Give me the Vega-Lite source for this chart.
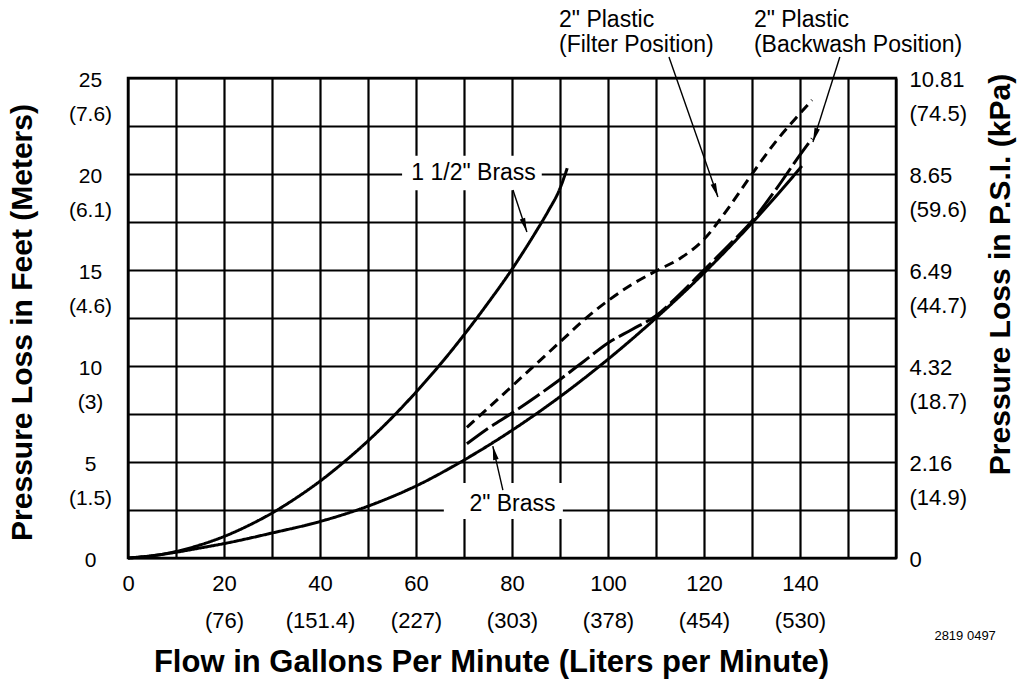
{
  "$schema": "https://vega.github.io/schema/vega-lite/v6.json",
  "width": 768,
  "height": 480,
  "autosize": {"type": "none"},
  "padding": {"left": 128, "top": 78, "right": 129, "bottom": 121},
  "background": "white",
  "config": {
    "view": {"stroke": "black", "strokeWidth": 2.5},
    "font": "Liberation Sans",
    "axis": {
      "domain": false, "ticks": false, "tickSize": 0, "grid": true,
      "gridColor": "black", "gridWidth": 2.2, "gridOpacity": 1,
      "labelColor": "black", "labelFont": "Liberation Sans", "titleColor": "black",
      "titleFont": "Liberation Sans", "labelFlush": false, "labelOverlap": false, "labelBound": false
    }
  },
  "datasets": {
    "boxes": [
      {"x": 57.1, "x2": 86.2, "y": 19.15, "y2": 20.95},
      {"x": 65.8, "x2": 90.6, "y": 2.03, "y2": 3.9}
    ],
    "curves": [
      {"s": "1 1/2in Brass", "x": 0, "y": 0},
      {"s": "1 1/2in Brass", "x": 5, "y": 0.11},
      {"s": "1 1/2in Brass", "x": 10, "y": 0.34},
      {"s": "1 1/2in Brass", "x": 15, "y": 0.68},
      {"s": "1 1/2in Brass", "x": 20, "y": 1.12},
      {"s": "1 1/2in Brass", "x": 25, "y": 1.68},
      {"s": "1 1/2in Brass", "x": 30, "y": 2.34},
      {"s": "1 1/2in Brass", "x": 35, "y": 3.12},
      {"s": "1 1/2in Brass", "x": 40, "y": 4.0},
      {"s": "1 1/2in Brass", "x": 45, "y": 5.0},
      {"s": "1 1/2in Brass", "x": 50, "y": 6.1},
      {"s": "1 1/2in Brass", "x": 55, "y": 7.31},
      {"s": "1 1/2in Brass", "x": 60, "y": 8.64},
      {"s": "1 1/2in Brass", "x": 65, "y": 10.07},
      {"s": "1 1/2in Brass", "x": 70, "y": 11.62},
      {"s": "1 1/2in Brass", "x": 75, "y": 13.28},
      {"s": "1 1/2in Brass", "x": 80, "y": 15.04},
      {"s": "1 1/2in Brass", "x": 82.5, "y": 16.0},
      {"s": "1 1/2in Brass", "x": 85, "y": 17.0},
      {"s": "1 1/2in Brass", "x": 87.5, "y": 18.05},
      {"s": "1 1/2in Brass", "x": 90, "y": 19.25},
      {"s": "1 1/2in Brass", "x": 91.5, "y": 20.3},
      {"s": "2in Brass", "x": 0, "y": 0},
      {"s": "2in Brass", "x": 5, "y": 0.12},
      {"s": "2in Brass", "x": 10, "y": 0.3},
      {"s": "2in Brass", "x": 15, "y": 0.52},
      {"s": "2in Brass", "x": 20, "y": 0.75},
      {"s": "2in Brass", "x": 30, "y": 1.3},
      {"s": "2in Brass", "x": 40, "y": 1.9},
      {"s": "2in Brass", "x": 50, "y": 2.7},
      {"s": "2in Brass", "x": 60, "y": 3.75},
      {"s": "2in Brass", "x": 70, "y": 5.1},
      {"s": "2in Brass", "x": 80, "y": 6.65},
      {"s": "2in Brass", "x": 90, "y": 8.4},
      {"s": "2in Brass", "x": 100, "y": 10.35},
      {"s": "2in Brass", "x": 110, "y": 12.5},
      {"s": "2in Brass", "x": 120, "y": 14.85},
      {"s": "2in Brass", "x": 130, "y": 17.45},
      {"s": "2in Brass", "x": 140, "y": 20.3},
      {"s": "2in Brass", "x": 140.4, "y": 20.42},
      {"s": "2in Plastic Backwash", "x": 70.6, "y": 5.95},
      {"s": "2in Plastic Backwash", "x": 75, "y": 6.75},
      {"s": "2in Plastic Backwash", "x": 80, "y": 7.55},
      {"s": "2in Plastic Backwash", "x": 85, "y": 8.4},
      {"s": "2in Plastic Backwash", "x": 90, "y": 9.3},
      {"s": "2in Plastic Backwash", "x": 95, "y": 10.25},
      {"s": "2in Plastic Backwash", "x": 100, "y": 11.2},
      {"s": "2in Plastic Backwash", "x": 105, "y": 11.9},
      {"s": "2in Plastic Backwash", "x": 110, "y": 12.62},
      {"s": "2in Plastic Backwash", "x": 115, "y": 13.75},
      {"s": "2in Plastic Backwash", "x": 120, "y": 15.0},
      {"s": "2in Plastic Backwash", "x": 125, "y": 16.25},
      {"s": "2in Plastic Backwash", "x": 130, "y": 17.55},
      {"s": "2in Plastic Backwash", "x": 135, "y": 19.2},
      {"s": "2in Plastic Backwash", "x": 140, "y": 21.0},
      {"s": "2in Plastic Backwash", "x": 142.5, "y": 21.85},
      {"s": "2in Plastic Filter", "x": 70.6, "y": 6.8},
      {"s": "2in Plastic Filter", "x": 75, "y": 7.8},
      {"s": "2in Plastic Filter", "x": 80, "y": 8.95},
      {"s": "2in Plastic Filter", "x": 85, "y": 10.1},
      {"s": "2in Plastic Filter", "x": 90, "y": 11.25},
      {"s": "2in Plastic Filter", "x": 95, "y": 12.4},
      {"s": "2in Plastic Filter", "x": 100, "y": 13.4},
      {"s": "2in Plastic Filter", "x": 105, "y": 14.25},
      {"s": "2in Plastic Filter", "x": 110, "y": 14.95},
      {"s": "2in Plastic Filter", "x": 115, "y": 15.6},
      {"s": "2in Plastic Filter", "x": 120, "y": 16.6},
      {"s": "2in Plastic Filter", "x": 125, "y": 18.2},
      {"s": "2in Plastic Filter", "x": 130, "y": 20.0},
      {"s": "2in Plastic Filter", "x": 135, "y": 21.7},
      {"s": "2in Plastic Filter", "x": 140, "y": 23.15},
      {"s": "2in Plastic Filter", "x": 142.5, "y": 23.85}
    ],
    "arrows": [
      {"x": 80.2, "y": 19.17, "x2": 83.1, "y2": 16.98, "a": 161.6},
      {"x": 78.1, "y": 3.54, "x2": 76.0, "y2": 5.83, "a": 347.2},
      {"x": 112.7, "y": 26.09, "x2": 122.9, "y2": 18.8, "a": 160.7},
      {"x": 148.3, "y": 26.09, "x2": 142.7, "y2": 21.67, "a": 197.6}
    ],
    "inlabels": [
      {"x": 72.0, "y": 20.05, "t": "1 1/2\" Brass"},
      {"x": 80.1, "y": 2.81, "t": "2\" Brass"}
    ],
    "toplabels": [
      {"x": 89.8, "y": 27.68, "t": "2\" Plastic|(Filter Position)"},
      {"x": 130.4, "y": 27.68, "t": "2\" Plastic|(Backwash Position)"}
    ],
    "figid": [
      {"x": 174.4, "y": -4.06, "t": "2819 0497"}
    ]
  },
  "layer": [
    {
      "data": {"name": "boxes"},
      "mark": {"type": "rect", "fill": "white", "strokeWidth": 0},
      "encoding": {
        "x": {
          "field": "x", "type": "quantitative",
          "scale": {"domain": [0, 160], "nice": false, "zero": false},
          "axis": {
            "orient": "bottom", "grid": true, "zindex": 0,
            "values": [0, 10, 20, 30, 40, 50, 60, 70, 80, 90, 100, 110, 120, 130, 140, 150, 160],
            "labelExpr": "datum.value == 0 ? '0' : datum.value == 20 ? ['20','(76)'] : datum.value == 40 ? ['40','(151.4)'] : datum.value == 60 ? ['60','(227)'] : datum.value == 80 ? ['80','(303)'] : datum.value == 100 ? ['100','(378)'] : datum.value == 120 ? ['120','(454)'] : datum.value == 140 ? ['140','(530)'] : ''",
            "labelFontSize": 22, "labelLineHeight": 37, "labelPadding": 15, "labelBaseline": "top", "labelAlign": "center",
            "title": "Flow in Gallons Per Minute (Liters per Minute)",
            "titleFontSize": 31, "titleFontWeight": "bold",
            "titleX": 363, "titleY": 104, "titleAlign": "center", "titleBaseline": "middle"
          }
        },
        "x2": {"field": "x2"},
        "y": {
          "field": "y", "type": "quantitative",
          "scale": {"domain": [0, 25], "nice": false, "zero": false},
          "axis": {
            "orient": "left", "grid": true, "zindex": 0,
            "values": [0, 2.5, 5, 7.5, 10, 12.5, 15, 17.5, 20, 22.5, 25],
            "labelExpr": "datum.value == 25 ? ['25','(7.6)'] : datum.value == 20 ? ['20','(6.1)'] : datum.value == 15 ? ['15','(4.6)'] : datum.value == 10 ? ['10','(3)'] : datum.value == 5 ? ['5','(1.5)'] : datum.value == 0 ? '0' : ''",
            "labelFontSize": 21, "labelLineHeight": 34, "labelPadding": 38, "labelAlign": "center", "labelBaseline": "top", "labelOffset": -9,
            "title": "Pressure Loss  in Feet (Meters)",
            "titleFontSize": 30, "titleFontWeight": "bold", "titleAngle": 270,
            "titleX": -106, "titleY": 244, "titleAlign": "center", "titleBaseline": "middle"
          }
        },
        "y2": {"field": "y2"}
      }
    },
    {
      "data": {"name": "curves"},
      "mark": {"type": "line", "interpolate": "monotone", "strokeWidth": 3, "color": "black", "strokeCap": "butt"},
      "encoding": {
        "x": {"field": "x", "type": "quantitative", "scale": {"domain": [0, 160], "nice": false, "zero": false}, "axis": null},
        "y": {
          "field": "y", "type": "quantitative",
          "scale": {"domain": [0, 25], "nice": false, "zero": false},
          "axis": {
            "orient": "right", "grid": false, "zindex": 0,
            "values": [0, 5, 10, 15, 20, 25],
            "labelExpr": "datum.value == 25 ? ['10.81','(74.5)'] : datum.value == 20 ? ['8.65','(59.6)'] : datum.value == 15 ? ['6.49','(44.7)'] : datum.value == 10 ? ['4.32','(18.7)'] : datum.value == 5 ? ['2.16','(14.9)'] : datum.value == 0 ? '0' : ''",
            "labelFontSize": 22, "labelLineHeight": 34, "labelPadding": 13, "labelAlign": "left", "labelBaseline": "top", "labelOffset": -9,
            "title": "Pressure Loss in P.S.I. (kPa)",
            "titleFontSize": 30, "titleFontWeight": "bold", "titleAngle": 270,
            "titleX": 104, "titleY": 196, "titleAlign": "center", "titleBaseline": "middle"
          }
        },
        "strokeDash": {
          "field": "s", "type": "nominal",
          "scale": {"domain": ["1 1/2in Brass", "2in Brass", "2in Plastic Backwash", "2in Plastic Filter"], "range": [[1, 0], [1, 0], [26, 5], [10, 6]]},
          "legend": null
        }
      }
    },
    {
      "data": {"name": "arrows"},
      "mark": {"type": "rule", "strokeWidth": 1.4, "color": "black"},
      "encoding": {
        "x": {"field": "x", "type": "quantitative", "scale": {"domain": [0, 160], "nice": false, "zero": false}, "axis": null},
        "y": {"field": "y", "type": "quantitative", "scale": {"domain": [0, 25], "nice": false, "zero": false}, "axis": null},
        "x2": {"field": "x2"},
        "y2": {"field": "y2"}
      }
    },
    {
      "data": {"name": "arrows"},
      "mark": {"type": "point", "shape": "M0,0L0.2,1L-0.2,1Z", "filled": true, "color": "black", "opacity": 1, "size": 784, "strokeWidth": 0},
      "encoding": {
        "x": {"field": "x2", "type": "quantitative", "scale": {"domain": [0, 160], "nice": false, "zero": false}, "axis": null},
        "y": {"field": "y2", "type": "quantitative", "scale": {"domain": [0, 25], "nice": false, "zero": false}, "axis": null},
        "angle": {"field": "a", "type": "quantitative", "scale": null}
      }
    },
    {
      "data": {"name": "inlabels"},
      "mark": {"type": "text", "fontSize": 23, "font": "Liberation Sans", "color": "black", "align": "center", "baseline": "middle"},
      "encoding": {
        "x": {"field": "x", "type": "quantitative", "scale": {"domain": [0, 160], "nice": false, "zero": false}, "axis": null},
        "y": {"field": "y", "type": "quantitative", "scale": {"domain": [0, 25], "nice": false, "zero": false}, "axis": null},
        "text": {"field": "t", "type": "nominal"}
      }
    },
    {
      "data": {"name": "toplabels"},
      "mark": {"type": "text", "fontSize": 23, "font": "Liberation Sans", "color": "black", "align": "left", "baseline": "alphabetic", "lineBreak": "|", "lineHeight": 25},
      "encoding": {
        "x": {"field": "x", "type": "quantitative", "scale": {"domain": [0, 160], "nice": false, "zero": false}, "axis": null},
        "y": {"field": "y", "type": "quantitative", "scale": {"domain": [0, 25], "nice": false, "zero": false}, "axis": null},
        "text": {"field": "t", "type": "nominal"}
      }
    },
    {
      "data": {"name": "figid"},
      "mark": {"type": "text", "fontSize": 13, "font": "Liberation Sans", "color": "black", "align": "center", "baseline": "middle"},
      "encoding": {
        "x": {"field": "x", "type": "quantitative", "scale": {"domain": [0, 160], "nice": false, "zero": false}, "axis": null},
        "y": {"field": "y", "type": "quantitative", "scale": {"domain": [0, 25], "nice": false, "zero": false}, "axis": null},
        "text": {"field": "t", "type": "nominal"}
      }
    }
  ],
  "resolve": {"axis": {"x": "independent", "y": "independent"}}
}
